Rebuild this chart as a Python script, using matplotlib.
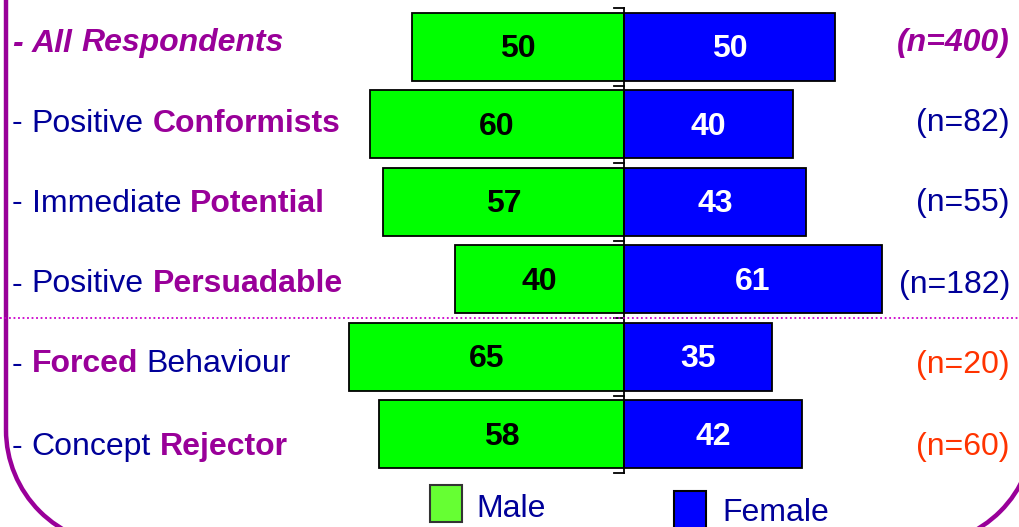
import matplotlib
matplotlib.use("Agg")
import matplotlib.pyplot as plt
import numpy as np
from matplotlib.patches import Arc, Rectangle

plt.rcParams['font.family'] = ['Liberation Sans', 'DejaVu Sans']

# segment labels, split into (word, style) pieces: 'b' bold purple, 'bi' bold italic purple, 'n' normal navy
segment_parts = [
    [("-", "bi"), ("All", "bi"), ("Respondents", "bi")],
    [("-", "n"), ("Positive", "n"), ("Conformists", "b")],
    [("-", "n"), ("Immediate", "n"), ("Potential", "b")],
    [("-", "n"), ("Positive", "n"), ("Persuadable", "b")],
    [("-", "n"), ("Forced", "b"), ("Behaviour", "n")],
    [("-", "n"), ("Concept", "n"), ("Rejector", "b")],
]
male = [50, 60, 57, 40, 65, 58]
female = [50, 40, 43, 61, 35, 42]
n_sizes = [400, 82, 55, 182, 20, 60]

PURPLE = '#990099'
NAVY = '#000099'
ORANGE = '#FF3300'
FS = 23

fig = plt.figure(figsize=(10.2, 5.27), dpi=100)

# overlay in pixel coordinates for frame, labels, legend
bg = fig.add_axes([0, 0, 1, 1])
bg.set_xlim(0, 1020)
bg.set_ylim(527, 0)
bg.axis('off')

ax = fig.add_axes([0, 0, 1, 1])
ax.set_xlim(-624 / 4.23, 396 / 4.23)
ax.set_ylim(-0.5 + (527 - 8) / 77.5, -0.5 - 8 / 77.5)
ax.axis('off')
ax.patch.set_visible(False)

rows = np.arange(len(male))
ax.barh(rows, [-m for m in male], height=0.88, color='#00FF00',
        edgecolor='black', linewidth=1.3)
ax.barh(rows, female, height=0.88, color='#0000FF',
        edgecolor='black', linewidth=1.3)
for i in rows:
    ax.text(-male[i] / 2, i + 0.03, str(male[i]), ha='center', va='center',
            fontsize=FS, fontweight='bold', color='black')
    ax.text(female[i] / 2, i + 0.03, str(female[i]), ha='center', va='center',
            fontsize=FS, fontweight='bold', color='white')

# centre axis with small ticks
ax.plot([0, 0], [-0.5, 5.5], color='black', lw=1.3)
for b in np.arange(-0.5, 6, 1.0):
    ax.plot([-10 / 4.23, 0], [b, b], color='black', lw=1.3)

# dotted separator
ax.axhline(3.5, color='#CC00CC', ls=(0, (1, 1.5)), lw=1.3)

# rounded frame (left, bottom, right with round corners)
r, xl, xr, yb = 115, 6, 1034, 545
fkw = dict(color=PURPLE, lw=3.2, solid_capstyle='butt')
bg.plot([xl, xl], [-10, yb - r], **fkw)
bg.plot([xr, xr], [-10, yb - r], **fkw)
bg.plot([xl + r, xr - r], [yb, yb], **fkw)
bg.add_patch(Arc((xl + r, yb - r), 2 * r, 2 * r, theta1=90, theta2=180,
                 color=PURPLE, lw=3.2))
bg.add_patch(Arc((xr - r, yb - r), 2 * r, 2 * r, theta1=0, theta2=90,
                 color=PURPLE, lw=3.2))

renderer = fig.canvas.get_renderer()
gap = 0.278 * FS * 100 / 72
baselines = [51.5, 131.5, 211.5, 292.5, 372.5, 454.5]

for i, parts in enumerate(segment_parts):
    x = 12
    for word, st in parts:
        kw = dict(fontsize=FS, va='baseline', ha='left')
        if st == 'n':
            kw.update(color=NAVY)
        elif st == 'b':
            kw.update(color=PURPLE, fontweight='bold')
        else:
            kw.update(color=PURPLE, fontweight='bold', fontstyle='italic')
        t = bg.text(x, baselines[i], word, **kw)
        bb = t.get_window_extent(renderer)
        x = bb.x1 + gap

    ncol = PURPLE if i == 0 else (NAVY if i < 4 else ORANGE)
    nkw = dict(fontweight='bold', fontstyle='italic') if i == 0 else {}
    bg.text(1010, baselines[i], f"(n={n_sizes[i]})", ha='right', va='baseline',
            fontsize=FS, color=ncol, **nkw)

# legend
bg.add_patch(Rectangle((430, 485), 32, 37, fc='#66FF33', ec='#333333', lw=1.5))
bg.text(476, 517, "Male", fontsize=FS, color=NAVY, va='baseline')
bg.add_patch(Rectangle((674, 491), 32, 45, fc='#0000FF', ec='black', lw=1.5,
                       clip_on=False))
bg.text(722, 521, "Female", fontsize=FS, color=NAVY, va='baseline')

fig.savefig("out.png", dpi=100)
